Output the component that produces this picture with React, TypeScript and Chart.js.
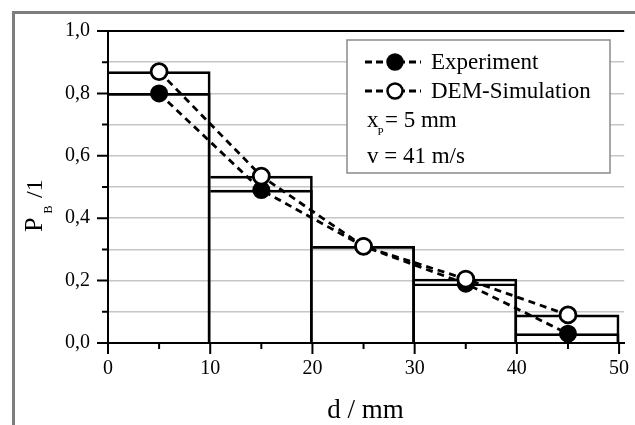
import React, { useEffect, useRef } from 'react';
import { Chart, registerables } from 'chart.js';

Chart.register(...registerables);

// ---- data ----
const binCenters = [5, 15, 25, 35, 45];
const experiment = [0.8, 0.49, 0.31, 0.19, 0.03];
const simulation = [0.87, 0.535, 0.31, 0.205, 0.09];
const xMajorTicks = [0, 10, 20, 30, 40, 50];
const xMinorTicks = [5, 15, 25, 35, 45];
const yTicks = [0, 0.1, 0.2, 0.3, 0.4, 0.5, 0.6, 0.7, 0.8, 0.9, 1.0];
const seriesLabels = ['Experiment', 'DEM-Simulation'];
const paramLabels = [
  { main: 'x', sub: 'P', rest: '= 5 mm' },
  { main: 'v = 41 m/s', sub: '', rest: '' },
];
const xTitle = 'd / mm';
const yTitle = { main: 'P', sub: 'B', rest: '/1' };

const FONT = "'Liberation Serif', 'Times New Roman', serif";

const toPoints = (vals: number[]) => binCenters.map((x, i) => ({ x, y: vals[i] }));

const decor = {
  id: 'decor',
  beforeDraw(chart: any) {
    const ctx = chart.ctx as CanvasRenderingContext2D;
    ctx.save();
    ctx.fillStyle = '#ffffff';
    ctx.fillRect(0, 0, chart.width, chart.height);
    ctx.fillStyle = '#7d7d7d';
    ctx.fillRect(12, 11, 3, chart.height - 11);
    ctx.fillRect(12, 11, chart.width - 12, 3);
    ctx.restore();
  },
  afterDraw(chart: any) {
    const ctx = chart.ctx as CanvasRenderingContext2D;
    const xs = chart.scales.x;
    const ys = chart.scales.y;
    const area = chart.chartArea;
    ctx.save();
    // tick marks
    ctx.strokeStyle = '#000';
    ctx.lineWidth = 2;
    ctx.beginPath();
    yTicks.forEach((v, i) => {
      const py = ys.getPixelForValue(v);
      const len = i % 2 === 0 ? 11 : 6;
      ctx.moveTo(area.left - len, py);
      ctx.lineTo(area.left, py);
    });
    xMajorTicks.forEach((v) => {
      const px = xs.getPixelForValue(v);
      ctx.moveTo(px, area.bottom);
      ctx.lineTo(px, area.bottom + 11);
    });
    xMinorTicks.forEach((v) => {
      const px = xs.getPixelForValue(v);
      ctx.moveTo(px, area.bottom);
      ctx.lineTo(px, area.bottom + 6);
    });
    ctx.stroke();

    // x title
    ctx.fillStyle = '#000';
    ctx.font = `27px ${FONT}`;
    ctx.textAlign = 'center';
    ctx.textBaseline = 'alphabetic';
    const cx = (xs.getPixelForValue(0) + xs.getPixelForValue(50)) / 2 + 2;
    ctx.fillText(xTitle, cx, 418);

    // y title (rotated)
    ctx.save();
    ctx.translate(42, 232);
    ctx.rotate(-Math.PI / 2);
    ctx.textAlign = 'left';
    ctx.font = `26px ${FONT}`;
    ctx.fillText(yTitle.main, 0, 0);
    const pw = ctx.measureText(yTitle.main).width;
    ctx.font = `12px ${FONT}`;
    ctx.fillText(yTitle.sub, pw + 4, 10);
    ctx.font = `24px ${FONT}`;
    ctx.fillText(yTitle.rest, 34, 0);
    ctx.restore();

    // legend box
    const bx = 347, by = 40, bw = 263, bh = 133;
    ctx.fillStyle = '#ffffff';
    ctx.fillRect(bx, by, bw, bh);
    ctx.strokeStyle = '#8a8a8a';
    ctx.lineWidth = 1.5;
    ctx.strokeRect(bx, by, bw, bh);

    const rows = [62, 91];
    seriesLabels.forEach((lab, i) => {
      const y = rows[i];
      ctx.strokeStyle = '#000';
      ctx.lineWidth = 3;
      ctx.setLineDash([7, 4]);
      ctx.beginPath();
      ctx.moveTo(365, y);
      ctx.lineTo(421, y);
      ctx.stroke();
      ctx.setLineDash([]);
      ctx.beginPath();
      ctx.arc(395, y, 7.5, 0, Math.PI * 2);
      ctx.fillStyle = i === 0 ? '#000' : '#fff';
      ctx.fill();
      ctx.lineWidth = 2.5;
      ctx.stroke();
      ctx.fillStyle = '#000';
      ctx.font = `23px ${FONT}`;
      ctx.textAlign = 'left';
      ctx.fillText(lab, 431, y + 7);
    });

    // parameters
    ctx.fillStyle = '#000';
    ctx.textAlign = 'left';
    const p0 = paramLabels[0];
    ctx.font = `23px ${FONT}`;
    ctx.fillText(p0.main, 367, 127);
    const w = ctx.measureText(p0.main).width;
    ctx.font = `11px ${FONT}`;
    ctx.fillText(p0.sub, 367 + w - 1, 135);
    ctx.font = `23px ${FONT}`;
    ctx.fillText(p0.rest, 385, 127);
    ctx.fillText(paramLabels[1].main, 367, 163);
    ctx.restore();
  },
};

export default function App() {
  const ref = useRef<HTMLCanvasElement>(null);
  useEffect(() => {
    document.body.style.margin = '0';
    const canvas = ref.current!;
    const barBase = {
      type: 'bar' as const,
      backgroundColor: 'rgba(0,0,0,0)',
      borderColor: '#000',
      borderWidth: { top: 2, right: 2, left: 0, bottom: 0 },
      borderSkipped: false as const,
      grouped: false,
      categoryPercentage: 1,
      barPercentage: 1,
    };
    const chart = new Chart(canvas, {
      type: 'bar',
      data: {
        datasets: [
          {
            type: 'line',
            label: seriesLabels[0],
            data: toPoints(experiment),
            borderColor: '#000',
            borderWidth: 2.8,
            borderDash: [7, 5],
            pointRadius: 8,
            pointBackgroundColor: '#000',
            pointBorderColor: '#000',
            pointBorderWidth: 2,
            tension: 0,
            order: 1,
          } as any,
          {
            type: 'line',
            label: seriesLabels[1],
            data: toPoints(simulation),
            borderColor: '#000',
            borderWidth: 2.8,
            borderDash: [7, 5],
            pointRadius: 8,
            pointBackgroundColor: '#fff',
            pointBorderColor: '#000',
            pointBorderWidth: 2.8,
            tension: 0,
            order: 0,
          } as any,
          { ...barBase, label: 'sim-hist', data: toPoints(simulation), order: 3 } as any,
          { ...barBase, label: 'exp-hist', data: toPoints(experiment), order: 2 } as any,
        ],
      },
      options: {
        responsive: false,
        animation: false,
        layout: { padding: { left: 0, right: 9, top: 31, bottom: 0 } },
        plugins: { legend: { display: false }, tooltip: { enabled: false } },
        scales: {
          x: {
            type: 'linear',
            min: 0,
            max: 50.5,
            offset: false,
            afterBuildTicks: (s: any) => {
              s.ticks = xMajorTicks.map((v) => ({ value: v }));
            },
            afterFit: (s: any) => {
              s.height = 82;
              s.paddingLeft = 0;
              s.paddingRight = 0;
            },
            grid: { display: true, drawOnChartArea: false, drawTicks: false, offset: false },
            border: { display: true, color: '#000', width: 2 },
            ticks: {
              font: { family: FONT, size: 20 },
              color: '#000',
              padding: 14,
              maxRotation: 0,
              autoSkip: false,
              callback: (v: any) => String(v),
            },
          },
          y: {
            type: 'linear',
            min: 0,
            max: 1,
            afterBuildTicks: (s: any) => {
              s.ticks = yTicks.map((v) => ({ value: v }));
            },
            afterFit: (s: any) => {
              s.width = 108;
              s.paddingTop = 0;
              s.paddingBottom = 0;
            },
            grid: {
              drawTicks: false,
              color: (c: any) =>
                c.tick && c.tick.value === 1 ? '#000' : c.tick && c.tick.value === 0 ? 'rgba(0,0,0,0)' : '#c6c6c6',
              lineWidth: (c: any) => (c.tick && c.tick.value === 1 ? 2 : 1.5),
            },
            border: { display: true, color: '#000', width: 2 },
            ticks: {
              font: { family: FONT, size: 20 },
              color: '#000',
              padding: 18,
              autoSkip: false,
              callback: (v: any, i: number) => (i % 2 === 0 ? Number(v).toFixed(1).replace('.', ',') : ''),
            },
          },
        },
      } as any,
      plugins: [decor],
    });
    return () => chart.destroy();
  }, []);
  return <canvas ref={ref} width={635} height={425} style={{ display: 'block' }} />;
}
